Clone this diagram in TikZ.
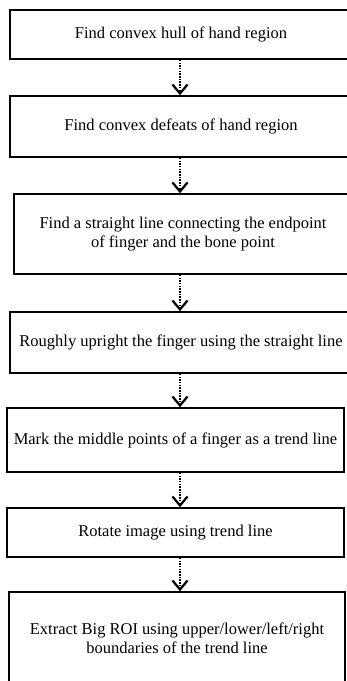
\documentclass[tikz,border=0pt]{standalone}
\usepackage{fontspec}
\setmainfont{Liberation Serif}
\usetikzlibrary{arrows.meta}
\tikzset{
  stepbox/.style={draw, line width=1.6pt, rectangle, inner sep=0pt, align=center},
  flow/.style={dash pattern=on 1.5pt off 1.2pt, line width=1.7pt, -{Straight Barb[length=9pt,width=15pt,line width=2.2pt]}}
}
\begin{document}
\begin{tikzpicture}[x=1pt,y=-1pt,font=\fontsize{16.5}{19}\selectfont]
            \useasboundingbox (0,0) rectangle (347,681);
            \coordinate (mid) at (180,0);
            \node[stepbox, minimum width=342pt, minimum height=49pt] (b1) at (181,34.5) {Find convex hull of hand region};
            \node[stepbox, minimum width=342pt, minimum height=61pt] (b2) at (181,126.5) {Find convex defeats of hand region};
            \node[stepbox, minimum width=338pt, minimum height=80pt] (b3) at (183,234) {Find a straight line connecting the endpoint\\of finger and the bone point};
            \node[stepbox, minimum width=342pt, minimum height=61pt] (b4) at (181,342.5) {Roughly upright the finger using the straight line};
            \node[stepbox, minimum width=337pt, minimum height=64pt] (b5) at (175.5,440) {Mark the middle points of a finger as a trend line};
            \node[stepbox, minimum width=337pt, minimum height=49pt] (b6) at (175.5,532.5) {Rotate image using trend line};
            \node[stepbox, minimum width=336pt, minimum height=92pt] (b7) at (177,638) {Extract Big ROI using upper/lower/left/right\\boundaries of the trend line};
            % dotted connectors
            \draw[flow] (b1.south -| mid) -- (b2.north -| mid);
            \draw[flow] (b2.south -| mid) -- (b3.north -| mid);
            \draw[flow] (b3.south -| mid) -- (b4.north -| mid);
            \draw[flow] (b4.south -| mid) -- (b5.north -| mid);
            \draw[flow] (b5.south -| mid) -- (b6.north -| mid);
            \draw[flow] (b6.south -| mid) -- (b7.north -| mid);
\end{tikzpicture}
\end{document}
